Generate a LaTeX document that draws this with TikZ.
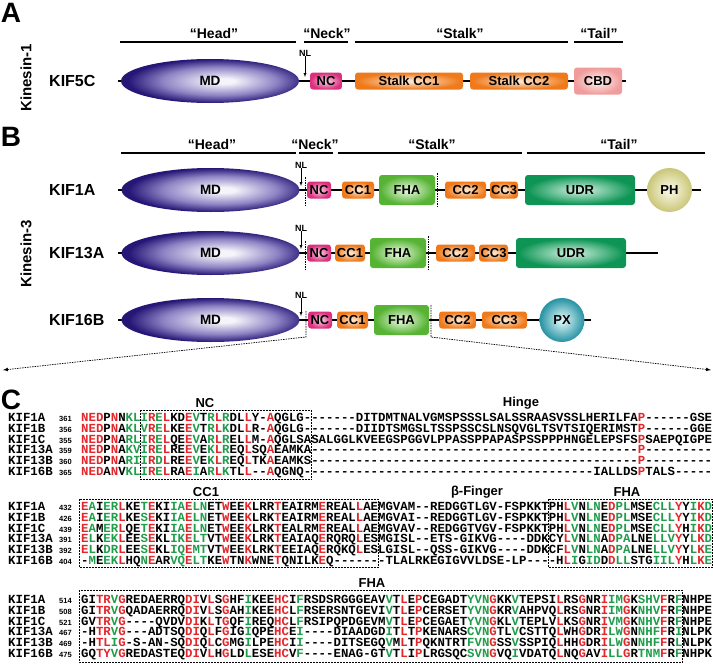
\documentclass[tikz,border=0pt]{standalone}
\usepackage{fontspec}
\setsansfont{Liberation Sans}
\newfontfamily\seqfont{Liberation Mono}
\usetikzlibrary{shapes.geometric}

\definecolor{seqred}{HTML}{E3262B}
\definecolor{seqgreen}{HTML}{1F9D4B}
\definecolor{mdin}{HTML}{F6F4FB}
\definecolor{mdmid}{HTML}{8E84C4}
\definecolor{mdout}{HTML}{261777}
\definecolor{ncin}{HTML}{F8C4DC}
\definecolor{ncout}{HTML}{DC2F7E}
\definecolor{ccin}{HTML}{FDE2C6}
\definecolor{ccout}{HTML}{EF7A1C}
\definecolor{cbdin}{HTML}{FDEAE8}
\definecolor{cbdout}{HTML}{F09C9C}
\definecolor{fhain}{HTML}{DDF3CF}
\definecolor{fhaout}{HTML}{56B334}
\definecolor{udrin}{HTML}{BDE8D2}
\definecolor{udrout}{HTML}{0E9555}
\definecolor{phin}{HTML}{F7F5DE}
\definecolor{phout}{HTML}{CCC87C}
\definecolor{pxin}{HTML}{D2F0F2}
\definecolor{pxout}{HTML}{2C96A6}

% soft radial fills for the domains (path edge sits at 25bp)
\newcommand\mkshade[3]{\pgfdeclareradialshading{#1}{\pgfpointorigin}{color(0bp)=(#2); color(3bp)=(#2); color(24bp)=(#3); color(50bp)=(#3)}}
\pgfdeclareradialshading{mdsh}{\pgfpoint{4bp}{0bp}}{color(0bp)=(mdin); color(3bp)=(mdin); color(16bp)=(mdmid); color(25bp)=(mdout); color(50bp)=(mdout)}
\mkshade{ncsh}{ncin}{ncout}
\mkshade{ccsh}{ccin}{ccout}
\mkshade{cbdsh}{cbdin}{cbdout}
\mkshade{fhash}{fhain}{fhaout}
\mkshade{udrsh}{udrin}{udrout}
\mkshade{phsh}{phin}{phout}
\mkshade{pxsh}{pxin}{pxout}

% alignment colouring: r = red, g = green, k = black
\def\doseq#1#2\relax#3#4\relax{%
  \ifx-#3-\else
    \if r#1\textcolor{seqred}{#3}\else
      \if g#1\textcolor{seqgreen}{#3}\else#3\fi
    \fi
  \fi
  \ifx\relax#4\relax\else\doseq#2\relax#4\relax\fi}
\newcommand\colseq[2]{\edef\seqtmp{\noexpand\doseq#1\noexpand\relax#2\noexpand\relax}\seqtmp}

\def\patA{rrrkrkgggr grkkrgkgrg kkrkkrkkkk kkkkkkkkkk kkkkkkkkkk kkkkkkkkkk kkkkkkkkkk kkkkkrkkkk kkkkk}
\def\patB{rgkggrkkgr kkggrggkkr kkrkkkrkkk kkrkkkkrkk kkkkkkkkkk kkkkkkkkkk kkkkkrgkgg krggkkkggg rkgrg}
\def\patC{kkrrgrkkkk kkkkrrkrkr kkgkkkrrkg kkkkkkkkkk kgkrkrkkkk kkgggrkkgk kkkkrkkrkk rggrkgggrk gkkkk}

\begin{document}
\begin{tikzpicture}[x=1pt,y=-1pt,
    ar/.style={->, >=latex},
    panel/.style={font=\sffamily\bfseries\fontsize{28}{28}\selectfont, inner sep=0},
    famtext/.style={font=\sffamily\bfseries\fontsize{15}{15}\selectfont, rotate=90, inner sep=0},
    hdtext/.style={font=\sffamily\bfseries\fontsize{14}{14}\selectfont, inner sep=0},
    hdbar/.style={line width=2.6pt},
    kifname/.style={anchor=west, font=\sffamily\bfseries\fontsize{16}{16}\selectfont, inner sep=0},
    nltext/.style={font=\sffamily\bfseries\fontsize{9}{9}\selectfont, inner sep=0},
    backbone/.style={line width=2.2pt},
    guide/.style={dash pattern=on 1.5pt off 1pt, line width=0.7pt},
    mdnode/.style={ellipse, shade, shading=mdsh, minimum width=178, minimum height=44, inner sep=0,
      font=\sffamily\bfseries\fontsize{13.5}{13.5}\selectfont},
    dombox/.style={rounded corners=3, shade, inner sep=0, minimum height=17,
      font=\sffamily\bfseries\fontsize{13}{13}\selectfont},
    ncbox/.style={dombox, shading=ncsh},
    ccbox/.style={dombox, shading=ccsh},
    cbdbox/.style={dombox, shading=cbdsh, minimum height=27},
    fhabox/.style={dombox, shading=fhash, minimum height=30},
    udrbox/.style={dombox, shading=udrsh, minimum height=30},
    ballnode/.style={ellipse, shade, inner sep=0, minimum width=45, minimum height=44,
      font=\sffamily\bfseries\fontsize{13}{13}\selectfont},
    seqname/.style={anchor=base west, inner sep=0, text height=7.5, text depth=0,
      font=\seqfont\bfseries\fontsize{12.37}{12.37}\selectfont},
    seqnum/.style={anchor=base west, inner sep=0, text height=5.5, text depth=0,
      font=\sffamily\bfseries\fontsize{7.5}{7.5}\selectfont},
    seqtext/.style={anchor=base west, inner sep=0, text height=7.5, text depth=0,
      font=\seqfont\bfseries\fontsize{12.37}{12.37}\selectfont},
    seqlab/.style={font=\sffamily\bfseries\fontsize{13}{13}\selectfont, inner sep=0},
    seqbox/.style={dash pattern=on 2pt off 1pt, line width=0.7pt}
  ]
  \useasboundingbox (0,0) rectangle (713,664);

  % ---------- A: kinesin-1
  \node[panel] (pA) at (11,13) {A};
  \node[famtext] (fam1) at (26,78) {Kinesin-1};
  \node[hdtext] (hA1) at (214,33) {“Head”};
  \node[hdtext] (hA2) at (327,33) {“Neck”};
  \node[hdtext] (hA3) at (460,33) {“Stalk”};
  \node[hdtext] (hA4) at (599,33) {“Tail”};
  \draw[hdbar] (120,42) -- (296,42);
  \draw[hdbar] (304,42) -- (348,42);
  \draw[hdbar] (355,42) -- (568,42);
  \draw[hdbar] (574,42) -- (623,42);

  \coordinate (s0) at (118,81);
  \coordinate (e0) at (626,81);
  \draw[backbone] (s0) -- (e0);
  \node[kifname] (kif5c) at (49,81) {KIF5C};
  \node[mdnode] (md0) at (210,81) {MD};
  \node[ncbox, minimum width=32] (nc0) at (326,81) {NC};
  \node[ccbox, minimum width=108] (cc0a) at (409,81) {Stalk CC1};
  \node[ccbox, minimum width=98] (cc0b) at (519,81) {Stalk CC2};
  \node[cbdbox, minimum width=48] (cbd0) at (598,81) {CBD};
  \node[nltext] (nl0) at (305,53) {NL};
  \coordinate (nt0) at (305,77);
  \draw[ar] (nl0) -- (nt0);

  % ---------- B: kinesin-3
  \node[panel] (pB) at (11,137) {B};
  \node[famtext] (fam3) at (26,254) {Kinesin-3};
  \node[hdtext] (hB1) at (212,144) {“Head”};
  \node[hdtext] (hB2) at (315,144) {“Neck”};
  \node[hdtext] (hB3) at (432,144) {“Stalk”};
  \node[hdtext] (hB4) at (619,144) {“Tail”};
  \draw[hdbar] (121,153) -- (296,153);
  \draw[hdbar] (299,153) -- (333,153);
  \draw[hdbar] (338,153) -- (522,153);
  \draw[hdbar] (527,153) -- (705,153);

  % KIF1A
  \coordinate (s1) at (118,190);
  \coordinate (e1) at (701,190);
  \draw[backbone] (s1) -- (e1);
  \draw[guide] (305,177) -- (305,206);
  \draw[guide] (437,173) -- (437,207);
  \node[kifname] (kif1a) at (49,190) {KIF1A};
  \node[mdnode] (md1) at (210.5,190) {MD};
  \node[ncbox, minimum width=24] (nc1) at (319,190) {NC};
  \node[ccbox, minimum width=32] (cc11) at (358,190) {CC1};
  \node[fhabox, minimum width=56] (fha1) at (407,190) {FHA};
  \node[ccbox, minimum width=41] (cc21) at (465.5,190) {CC2};
  \node[ccbox, minimum width=28] (cc31) at (504,190) {CC3};
  \node[udrbox, minimum width=110] (udr1) at (580,190) {UDR};
  \node[ballnode, shading=phsh] (ph1) at (669.5,190) {PH};
  \node[nltext] (nl1) at (301,165) {NL};
  \coordinate (nt1) at (301,186);
  \draw[ar] (nl1) -- (nt1);

  % KIF13A
  \coordinate (s2) at (118,253);
  \coordinate (e2) at (658,253);
  \draw[backbone] (s2) -- (e2);
  \draw[guide] (305,241) -- (305,270);
  \draw[guide] (428,236) -- (428,270);
  \node[kifname] (kif13a) at (49,253) {KIF13A};
  \node[mdnode] (md2) at (210.5,253) {MD};
  \node[ncbox, minimum width=24] (nc2) at (319,253) {NC};
  \node[ccbox, minimum width=30] (cc12) at (350,253) {CC1};
  \node[fhabox, minimum width=56] (fha2) at (398,253) {FHA};
  \node[ccbox, minimum width=39] (cc22) at (455.5,253) {CC2};
  \node[ccbox, minimum width=29] (cc32) at (493.5,253) {CC3};
  \node[udrbox, minimum width=110] (udr2) at (571,253) {UDR};
  \node[nltext] (nl2) at (301,228) {NL};
  \coordinate (nt2) at (301,249);
  \draw[ar] (nl2) -- (nt2);

  % KIF16B
  \coordinate (s3) at (118,320);
  \coordinate (e3) at (591,320);
  \draw[backbone] (s3) -- (e3);
  \coordinate (gl1) at (306,311);
  \coordinate (gl2) at (306,337);
  \coordinate (zl) at (3,370);
  \coordinate (gr1) at (431,305);
  \coordinate (gr2) at (431,337);
  \coordinate (zr) at (711,370);
  \draw[guide, ar] (gl1) -- (gl2) -- (zl);
  \draw[guide, ar] (gr1) -- (gr2) -- (zr);
  \node[kifname] (kif16b) at (49,320) {KIF16B};
  \node[mdnode] (md3) at (210.5,320) {MD};
  \node[ncbox, minimum width=24] (nc3) at (320,320) {NC};
  \node[ccbox, minimum width=31] (cc13) at (352.5,320) {CC1};
  \node[fhabox, minimum width=55] (fha3) at (401.5,320) {FHA};
  \node[ccbox, minimum width=37] (cc23) at (457.5,320) {CC2};
  \node[ccbox, minimum width=45] (cc33) at (504.5,320) {CC3};
  \node[ballnode, shading=pxsh] (px3) at (562,320) {PX};
  \node[nltext] (nl3) at (301,295) {NL};
  \coordinate (nt3) at (301,316);
  \draw[ar] (nl3) -- (nt3);

  % ---------- C: alignment
  \node[panel] (pC) at (11,400) {C};
  \node[seqlab] (lnc) at (205,403) {NC};
  \node[seqlab] (lhinge) at (521,403) {Hinge};
  \node[seqlab] (lcc1) at (206,492) {CC1};
  \node[seqlab] (lbeta) at (477,492) {β-Finger};
  \node[seqlab] (lfha1) at (627,492) {FHA};
  \node[seqlab] (lfha2) at (372,583) {FHA};

  \foreach \nm/\num/\sq [count=\i from 0] in {%
KIF1A/361/NEDPNNKLIR ELKDEVTRLR DLLY-AQGLG -------DIT DMTNALVGMS PSSSLSALSS RAASVSSLHE RILFAP---- --GSE,%
KIF1B/356/NEDPNAKLVR ELKEEVTRLK DLLR-AQGLG -------DII DTSMGSLTSS PSSCSLNSQV GLTSVTSIQE RIMSTP---- --GGE,%
KIF1C/355/NEDPNARLIR ELQEEVARLR ELLM-AQGLS ASALGGLKVE EGSPGGVLPP ASSPPAPASP SSPPPHNGEL EPSFSPSAEP QIGPE,%
KIF13A/359/NEDPNAKVIR ELREEVEKLR EQLSQAEAMK A--------- ---------- ---------- ---------- -----P---- -----,%
KIF13B/360/NEDPNARIIR DLREEVEKLR EQLTKAEAMK S--------- ---------- ---------- ---------- -----P---- -----,%
KIF16B/365/NEDANVKLIR ELRAEIARLK TLL--AQGNQ ---------- ---------- ---------- ---------I ALLDSPTALS -----}{%
    \node[seqname] (na\i) at (8,421.5+10.8*\i) {\nm};
    \node[seqnum] (ma\i) at (59,421.5+10.8*\i) {\num};
    \node[seqtext] (sa\i) at (81,421.5+10.8*\i) {\colseq\patA\sq};
  }
  \foreach \nm/\num/\sq [count=\i from 0] in {%
KIF1A/432/EAIERLKETE KIIAELNETW EEKLRRTEAI RMEREALLAE MGVAM--RED GGTLGV-FSP KKTPHLVNLN EDPLMSECLL YYIKD,%
KIF1B/426/EAIERLKESE KIIAELNETW EEKLRKTEAI RMEREALLAE MGVAI--RED GGTLGV-FSP KKTPHLVNLN EDPLMSECLL YYIKD,%
KIF1C/439/EAMERLQETE KIIAELNETW EEKLRKTEAL RMEREALLAE MGVAV--RED GGTVGV-FSP KKTPHLVNLN EDPLMSECLL YHIKD,%
KIF13A/391/ELKEKLEESE KLIKELTVTW EEKLRKTEAI AQERQRQLES MGISL--ETS -GIKVG---- DDKCYLVNLN ADPALNELLV YYLKD,%
KIF13B/392/ELKDRLEESE KLIQEMTVTW EEKLRKTEEI AQERQKQLES LGISL--QSS -GIKVG---- DDKCFLVNLN ADPALNELLV YYLKE,%
KIF16B/404/-MEEKLHQNE ARVQELTKEW TNKWNETQNI LKEQ------ -TLALRKEGI GVVLDSE-LP ----HLIGID DDLLSTGIIL YHLKE}{%
    \node[seqname] (nb\i) at (8,510.5+10.8*\i) {\nm};
    \node[seqnum] (mb\i) at (59,510.5+10.8*\i) {\num};
    \node[seqtext] (sb\i) at (81,510.5+10.8*\i) {\colseq\patB\sq};
  }
  \foreach \nm/\num/\sq [count=\i from 0] in {%
KIF1A/514/GITRVGREDA ERRQDIVLSG HFIKEEHCIF RSDSRGGGEA VVTLEPCEGA DTYVNGKKVT EPSILRSGNR IIMGKSHVFR FNHPE,%
KIF1B/508/GITRVGQADA ERRQDIVLSG AHIKEEHCLF RSERSNTGEV IVTLEPCERS ETYVNGKRVA HPVQLRSGNR IIMGKNHVFR FNHPE,%
KIF1C/521/GVTRVG---- QVDVDIKLTG QFIREQHCLF RSIPQPDGEV MVTLEPCEGA ETYVNGKLVT EPLVLKSGNR IVMGKNHVFR FNHPE,%
KIF13A/467/-HTRVG---A DTSQDIQLFG IGIQPEHCEI ----DIAADG DITLTPKENA RSCVNGTLVC STTQLWHGDR ILWGNNHFFR INLPK,%
KIF13B/469/-HTLIG-S-A N-SQDIQLCG MGILPEHCII ----DITSEG QVMLTPQKNT RTFVNGSSVS SPIQLHHGDR ILWGNNHFFR LNLPK,%
KIF16B/475/GQTYVGREDA STEQDIVLHG LDLESEHCVF ----ENAG-G TVTLIPLRGS QCSVNGVQIV DATQLNQGAV ILLGRTNMFR FNHPK}{%
    \node[seqname] (nc\i) at (8,603.5+10.8*\i) {\nm};
    \node[seqnum] (mc\i) at (59,603.5+10.8*\i) {\num};
    \node[seqtext] (sc\i) at (81,603.5+10.8*\i) {\colseq\patC\sq};
  }

  \draw[seqbox] (140,410) rectangle (311.5,479.5);
  \draw[seqbox] (79,499) rectangle (378,567.5);
  \draw[seqbox] (548.5,499) rectangle (712,567.5);
  \draw[seqbox] (79,590) rectangle (682.5,662);
\end{tikzpicture}
\end{document}
